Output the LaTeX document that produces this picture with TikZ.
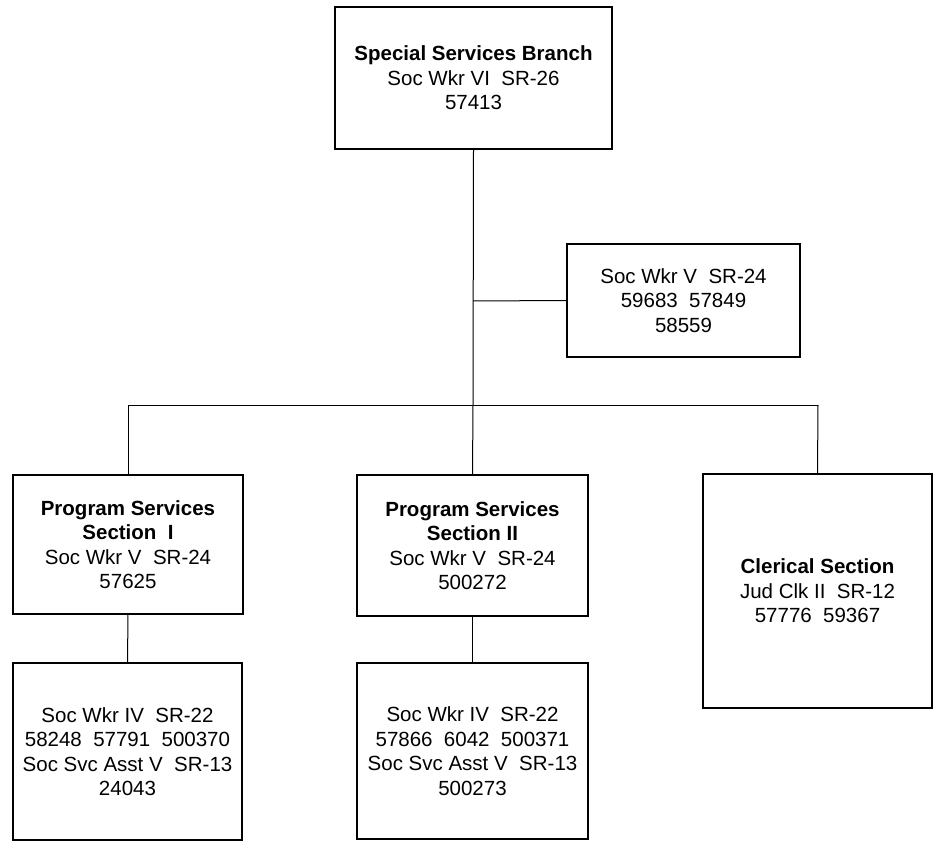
\documentclass[tikz,border=0pt]{standalone}
\usepackage{fontspec}
\setmainfont{Liberation Sans}
\begin{document}
\begin{tikzpicture}[x=1pt,y=-1pt,
  box/.style={draw=black,line width=1.4pt,inner sep=0pt,align=center,
    font=\fontsize{20.5}{24.5}\selectfont,fill=white},
  conn/.style={draw=black,line width=1pt}]
\useasboundingbox (0,0) rectangle (940,850);
\fill[white] (0,0) rectangle (940,850);
% boxes
\node[box,minimum width=277pt,minimum height=142pt] (top) at (473.5,78)
  {\textbf{Special Services Branch}\\Soc Wkr VI\ \ SR-26\\57413};
\node[box,minimum width=233pt,minimum height=113pt] (rb) at (683.5,300.5)
  {Soc Wkr V\ \ SR-24\\59683\ \ 57849\\58559};
\node[box,minimum width=230pt,minimum height=139pt] (ps1) at (128,544.5)
  {\textbf{Program Services}\\\textbf{Section\ \ I}\\Soc Wkr V\ \ SR-24\\57625};
\node[box,minimum width=231pt,minimum height=141pt] (ps2) at (472.5,545.5)
  {\textbf{Program Services}\\\textbf{Section II}\\Soc Wkr V\ \ SR-24\\500272};
\node[box,minimum width=229pt,minimum height=234pt] (cl) at (817.5,591)
  {\textbf{Clerical Section}\\Jud Clk II\ \ SR-12\\57776\ \ 59367};
\node[box,minimum width=229pt,minimum height=177pt] (c1) at (127.5,751.5)
  {Soc Wkr IV\ \ SR-22\\58248\ \ 57791\ \ 500370\\Soc Svc Asst V\ \ SR-13\\24043};
\node[box,minimum width=231pt,minimum height=176pt] (c2) at (472.5,751)
  {Soc Wkr IV\ \ SR-22\\57866\ \ 6042\ \ 500371\\Soc Svc Asst V\ \ SR-13\\500273};
% junctions
\coordinate (j1) at (473,301);
\coordinate (bj) at (473,405);
\coordinate (bl) at (128,405);
\coordinate (br) at (818,405);
% connectors
\draw[conn] (top.south) -- (bj);
\draw[conn] (j1) -- (rb.west);
\draw[conn] (bl) -- (br);
\draw[conn] (bl) -- (ps1.north);
\draw[conn] (bj) -- (ps2.north);
\draw[conn] (br) -- (cl.north);
\draw[conn] (ps1.south) -- (c1.north);
\draw[conn] (ps2.south) -- (c2.north);
\end{tikzpicture}
\end{document}
